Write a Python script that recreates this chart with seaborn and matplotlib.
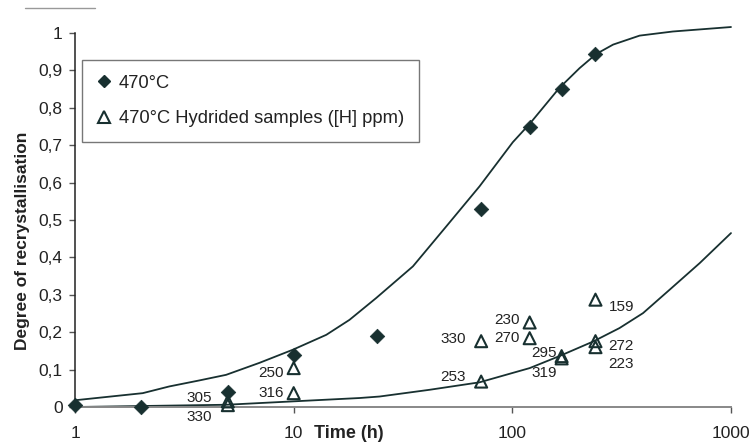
import matplotlib
matplotlib.use("Agg")
import matplotlib.pyplot as plt
from matplotlib.lines import Line2D
import seaborn as sns
import pandas as pd

# Annealing at 470°C: measured recrystallised fraction
time_ref = [1, 2, 5, 10, 24, 72, 120, 168, 240]
rx_ref = [0.005, 0.0, 0.04, 0.14, 0.19, 0.53, 0.75, 0.85, 0.945]

# Hydrided samples, with hydrogen content in ppm
time_hyd = [5, 5, 10, 10, 72, 72, 120, 120, 168, 168, 240, 240, 240]
rx_hyd = [0.015, 0.005, 0.104, 0.037, 0.176, 0.068, 0.226, 0.184, 0.136, 0.13, 0.287, 0.176, 0.16]
h_ppm = [305, 330, 250, 316, 330, 253, 230, 270, 295, 319, 159, 272, 223]

# Fitted kinetics curves
fit_t = [1, 2.04, 2.7, 3.7, 4.91, 6.97, 9.9, 14.1, 18.0, 23.8, 35.1, 49.9, 70.8, 100.5, 120,
         164, 203, 242, 289, 382, 542, 1000]
fit_rx = [0.018, 0.037, 0.055, 0.071, 0.086, 0.118, 0.153, 0.193, 0.233, 0.291, 0.376, 0.483,
          0.59, 0.708, 0.757, 0.853, 0.906, 0.944, 0.969, 0.993, 1.004, 1.016]
fit_hyd_t = [1, 4.91, 9.9, 20, 24.7, 41.8, 70.8, 120, 164, 234, 309, 396, 525, 720, 1000]
fit_hyd_rx = [0.0, 0.006, 0.015, 0.024, 0.028, 0.046, 0.066, 0.104, 0.136, 0.175, 0.211,
              0.251, 0.314, 0.385, 0.465]

y_ticks = [0, 0.1, 0.2, 0.3, 0.4, 0.5, 0.6, 0.7, 0.8, 0.9, 1]
y_ticklabels = ["0", "0,1", "0,2", "0,3", "0,4", "0,5", "0,6", "0,7", "0,8", "0,9", "1"]
x_ticks = [1, 10, 100, 1000]
x_ticklabels = ["1", "10", "100", "1000"]

# label offsets in pixels (dx, dy) for each ppm value
lab_off = [(-16, 3), (-16, -12), (-10, -5), (-10, 0), (-15, 2), (-15, 5), (-10, 2), (-10, 0),
           (-5, 3), (-5, -15), (13, -7), (13, -5), (13, -17)]

sns.set_theme(style="white")
plt.rcParams["font.family"] = ["Liberation Sans", "DejaVu Sans"]

ink = "#183030"
txt_col = "#222222"

fig = plt.figure(figsize=(7.52, 4.45), dpi=100)
ax = fig.add_axes([75 / 752, 1 - 407 / 445, (731 - 75) / 752, (407 - 33) / 445])

df_fit = pd.DataFrame({"t": fit_t, "rx": fit_rx})
df_fit_h = pd.DataFrame({"t": fit_hyd_t, "rx": fit_hyd_rx})
df_ref = pd.DataFrame({"t": time_ref, "rx": rx_ref})
df_hyd = pd.DataFrame({"t": time_hyd, "rx": rx_hyd})

sns.lineplot(data=df_fit, x="t", y="rx", ax=ax, color=ink, lw=1.3, sort=False, legend=False)
sns.lineplot(data=df_fit_h, x="t", y="rx", ax=ax, color=ink, lw=1.3, sort=False, legend=False)
for ln in ax.get_lines():
    ln.set_clip_on(False)
    ln.set_solid_joinstyle("round")
sns.scatterplot(data=df_ref, x="t", y="rx", ax=ax, marker="D", s=55, color=ink,
                edgecolor=ink, linewidth=0.5, zorder=4, clip_on=False, legend=False)
sns.scatterplot(data=df_hyd, x="t", y="rx", ax=ax, marker="^", s=75, facecolor="none",
                edgecolor=ink, linewidth=1.5, zorder=5, clip_on=False, legend=False)

for t, r, h, (dx, dy) in zip(time_hyd, rx_hyd, h_ppm, lab_off):
    ax.annotate(str(h), (t, r), xytext=(dx, dy), textcoords="offset pixels",
                ha="right" if dx < 0 else "left", va="center", fontsize=11, color=txt_col)

ax.set_xscale("log")
ax.set_xlim(1, 1000)
ax.set_ylim(0, 1)
ax.set_xticks(x_ticks)
ax.set_xticklabels(x_ticklabels)
ax.xaxis.set_minor_locator(matplotlib.ticker.NullLocator())
ax.set_yticks(y_ticks)
ax.set_yticklabels(y_ticklabels)
ax.tick_params(axis="y", direction="out", length=4, width=1, pad=5, labelsize=12.5, color="#555555", left=True)
ax.tick_params(axis="x", direction="out", length=4, width=1, pad=10, labelsize=12.5, color="#555555", bottom=True)
for lab in ax.get_xticklabels() + ax.get_yticklabels():
    lab.set_color(txt_col)

for s in ["top", "right"]:
    ax.spines[s].set_visible(False)
ax.spines["left"].set_color(txt_col)
ax.spines["left"].set_linewidth(1.1)
ax.spines["bottom"].set_color("#888888")
ax.spines["bottom"].set_linewidth(1.4)

ax.set_xlabel("")
ax.set_ylabel("Degree of recrystallisation", fontsize=12.5, fontweight="bold", color=txt_col)
ax.yaxis.set_label_coords(-0.069, 0.445)
fig.text(314 / 752, 1 - 434 / 445, "Time (h)", fontsize=13, fontweight="bold", color=txt_col,
         ha="left", va="center")

handles = [
    Line2D([], [], marker="D", ls="none", color=ink, markersize=6.5),
    Line2D([], [], marker="^", ls="none", markerfacecolor="none", markeredgecolor=ink,
           markeredgewidth=1.5, markersize=8.5),
]
leg = ax.legend(handles, ["470°C", "470°C Hydrided samples ([H] ppm)"],
                loc="upper left", bbox_to_anchor=(82 / 752, 1 - 60 / 445), bbox_transform=fig.transFigure,
                fontsize=13.2, frameon=True, fancybox=False, handlelength=0.8, handletextpad=0.4,
                borderpad=0.8, labelspacing=1.0, borderaxespad=0)
leg.get_frame().set_edgecolor("#555555")
leg.get_frame().set_linewidth(1.0)
for txt in leg.get_texts():
    txt.set_color(txt_col)

# faint rule at the top-left corner of the page
fig.add_artist(Line2D([25 / 752, 95 / 752], [1 - 8 / 445, 1 - 8 / 445], color="#999999", lw=1.0,
                      transform=fig.transFigure))

fig.savefig("out.png", dpi=100, facecolor="white")
